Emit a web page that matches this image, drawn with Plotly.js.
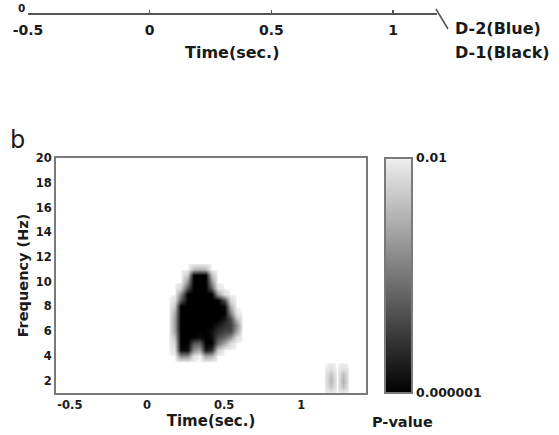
<!DOCTYPE html>
<html>
<head>
<meta charset="utf-8">
<script src="https://cdn.plot.ly/plotly-3.0.1.min.js"></script>
<style>html,body{margin:0;padding:0;background:#fff;}#chart{width:559px;height:435px;}</style>
</head>
<body>
<div id="chart"></div>
<script>
// ---- data (log10 of P-value) ----
var timeBins = [0.14,0.18,0.22,0.26,0.30,0.34,0.38,0.42,0.46,0.50,0.54,0.58,0.62,0.66];
var freqBins = [3.5,4,4.5,5,5.5,6,6.5,7,7.5,8,8.5,9,9.5,10,10.5,11,11.5];
var logP = [
  [-2,-2,-2,-2,-2,-2,-2,-2,-2,-2,-2,-2,-2,-2],
  [-2,-2,-3.6,-3.6,-2.2,-2,-3.2,-3.0,-2,-2,-2,-2,-2,-2],
  [-2,-2.2,-5.8,-5.8,-3.6,-3.2,-5.6,-5.2,-2.6,-2,-2,-2,-2,-2],
  [-2,-2.4,-6,-6,-4.6,-4.4,-6,-6,-4.2,-3.2,-2.3,-2,-2,-2],
  [-2,-2.8,-6,-6,-6,-5.8,-6,-5.8,-4.8,-4.3,-3.6,-2.3,-2,-2],
  [-2,-3.2,-6,-6,-6,-6,-6,-5.8,-5.2,-4.9,-4.8,-3.3,-2,-2],
  [-2,-3.3,-6,-6,-6,-6,-6,-6,-5.6,-5.2,-5.0,-3.6,-2,-2],
  [-2,-3.3,-6,-6,-6,-6,-6,-6,-6,-5.6,-4.8,-2.8,-2,-2],
  [-2,-3.1,-6,-6,-6,-6,-6,-6,-6,-6,-3.8,-2.1,-2,-2],
  [-2,-2.6,-6,-6,-6,-6,-6,-6,-6,-5.8,-3.0,-2,-2,-2],
  [-2,-2.2,-4.4,-6,-6,-6,-6,-6,-6,-4.6,-2.3,-2,-2,-2],
  [-2,-2,-3.6,-6,-6,-6,-6,-6,-3.4,-2.2,-2,-2,-2,-2],
  [-2,-2,-2.4,-4.6,-6,-6,-6,-4.4,-2.2,-2,-2,-2,-2,-2],
  [-2,-2,-2,-3.6,-6,-6,-6,-3.6,-2,-2,-2,-2,-2,-2],
  [-2,-2,-2,-2.6,-6,-6,-6,-2.8,-2,-2,-2,-2,-2,-2],
  [-2,-2,-2,-2,-2.8,-3.0,-2.8,-2,-2,-2,-2,-2,-2,-2],
  [-2,-2,-2,-2,-2,-2,-2,-2,-2,-2,-2,-2,-2,-2]
];
var lateTimeBins = [1.15,1.195,1.23,1.27,1.31];
var lateFreqBins = [1,1.5,2,2.5,3,3.5];
var lateLogP = [
  [-2,-2,-2,-2,-2],
  [-2,-2.7,-2,-2.8,-2],
  [-2,-2.9,-2,-3.0,-2],
  [-2,-2.7,-2,-2.8,-2],
  [-2,-2.2,-2,-2.2,-2],
  [-2,-2,-2,-2,-2]
];
var timeTicks = [-0.5,0,0.5,1];
var timeTickText = ['-0.5','0','0.5','1'];
var freqTicks = [2,4,6,8,10,12,14,16,18,20];
var pTicks = [-6,-2];
var pTickText = ['0.000001','0.01'];
var legendLabels = ['D-2(Blue)','D-1(Black)'];

// ---- figure ----
var W = 559, H = 435;
function px(x){return x/W;}
function py(y){return 1 - y/H;}
var FAM = 'DejaVu Sans, sans-serif';
var INK = '#1a1a1a';
function bold(size){return {family:FAM, size:size, weight:'bold', color:INK};}

var traces = [
  {type:'heatmap', x:timeBins, y:freqBins, z:logP, coloraxis:'coloraxis', zsmooth:'best', hoverinfo:'skip'},
  {type:'heatmap', x:lateTimeBins, y:lateFreqBins, z:lateLogP, coloraxis:'coloraxis', zsmooth:'best', hoverinfo:'skip'},
  {type:'scatter', x:[], y:[], xaxis:'x2', yaxis:'y2', showlegend:false}
];

var layout = {
  width:W, height:H,
  margin:{l:0,r:0,t:0,b:0,pad:0},
  paper_bgcolor:'#fff', plot_bgcolor:'#fff',
  showlegend:false,
  coloraxis:{
    cmin:-6, cmax:-2,
    colorscale:[[0,'#000000'],[0.99,'#ececec'],[1,'#ffffff']],
    colorbar:{
      x:px(385), xanchor:'left', y:py(393), yanchor:'bottom',
      len:(393-158)/H, lenmode:'fraction', thickness:27, thicknessmode:'pixels',
      xpad:0, ypad:0, outlinewidth:2, outlinecolor:'#7a7a7a',
      tickvals:pTicks, ticktext:pTickText, ticks:'',
      tickfont:bold(12.5)
    }
  },
  xaxis:{
    domain:[px(56), px(366)], range:[-0.59,1.42], anchor:'y',
    tickvals:timeTicks, ticktext:timeTickText, ticks:'',
    showline:true, mirror:true, linecolor:'#7a7a7a', linewidth:2,
    showgrid:false, zeroline:false, tickfont:bold(11.5),
    title:{text:'Time(sec.)', font:bold(15), standoff:4}
  },
  yaxis:{
    domain:[py(393), py(158)], range:[1,20], anchor:'x',
    tickvals:freqTicks, ticks:'',
    showline:true, mirror:true, linecolor:'#7a7a7a', linewidth:2,
    showgrid:false, zeroline:false, tickfont:bold(11.5),
    title:{text:'Frequency (Hz)', font:bold(14.5), standoff:4}
  },
  xaxis2:{
    domain:[px(28), px(437)], range:[-0.5,1.18], anchor:'y2',
    tickvals:timeTicks, ticktext:timeTickText, ticks:'inside', ticklen:3, tickcolor:'#555', tickwidth:1.5,
    ticklabelstandoff:4,
    showline:true, linecolor:'#555', linewidth:1.5,
    showgrid:false, zeroline:false, tickfont:bold(14)
  },
  yaxis2:{
    domain:[py(13), 1], range:[-1,0.3], anchor:'x2',
    showticklabels:false, ticks:'', showline:false, showgrid:false, zeroline:false
  },
  shapes:[
    {type:'line', xref:'paper', yref:'paper', x0:px(436), y0:py(9), x1:px(448), y1:py(29), line:{color:'#555', width:1.5}}
  ],
  annotations:[
    {text:'0', xref:'paper', yref:'paper', x:px(21), y:py(0.5), xanchor:'center', yanchor:'top', showarrow:false, font:bold(10.5)},
    {text:'Time(sec.)', xref:'paper', yref:'paper', x:px(232), y:py(53), xanchor:'center', yanchor:'middle', showarrow:false, font:bold(16)},
    {text:legendLabels[0], xref:'paper', yref:'paper', x:px(453), y:py(29), xanchor:'left', yanchor:'middle', showarrow:false, font:bold(16)},
    {text:legendLabels[1], xref:'paper', yref:'paper', x:px(453), y:py(53), xanchor:'left', yanchor:'middle', showarrow:false, font:bold(16)},
    {text:'b', xref:'paper', yref:'paper', x:px(8), y:py(140), xanchor:'left', yanchor:'middle', showarrow:false,
     font:{family:FAM, size:24, color:INK}},
    {text:'P-value', xref:'paper', yref:'paper', x:px(402), y:py(422), xanchor:'center', yanchor:'middle', showarrow:false, font:bold(14.5)}
  ]
};

Plotly.newPlot('chart', traces, layout, {displayModeBar:false, staticPlot:true});
</script>
</body>
</html>
